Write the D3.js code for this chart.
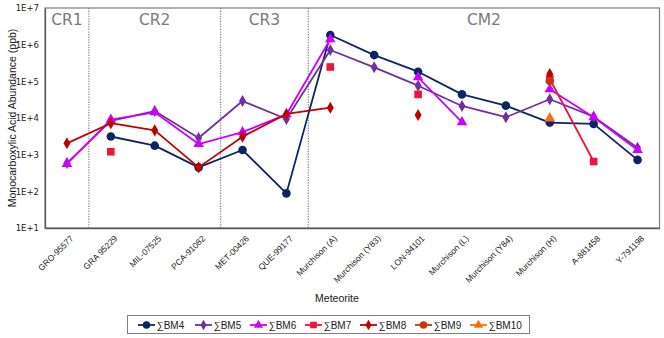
<!DOCTYPE html>
<html><head><meta charset="utf-8">
<script src="https://cdn.jsdelivr.net/npm/d3@7"></script>
<style>body{margin:0;background:#fff}svg{display:block;font-family:"Liberation Sans",Arial,sans-serif}</style>
</head><body><svg id="c" width="664" height="338"></svg>
<script>
const categories = ["GRO-95577","GRA 95229","MIL-07525","PCA-91082","MET-00426","QUE-99177","Murchison (A)","Murchison (Y83)","LON-94101","Murchison (L)","Murchison (Y84)","Murchison (H)","A-881458","Y-791198"];
const bm4  = [null,3130,1760,450,1340,88,1840000,520000,183000,44000,21700,7500,6900,720];
const bm5  = [590,8400,15500,2850,29000,9400,716000,241000,76000,21300,10500,32400,10900,1550];
const bm6  = [560,9000,14300,1950,4100,12500,1400000,null,129000,7700,null,61000,10500,1340];
const bm7  = [null,1200,null,null,null,null,246000,null,44000,null,null,116000,650,null];
const bm8  = [2040,7200,4600,450,3100,12900,19100,null,12100,null,null,158000,null,null];
const bm9  = [null,null,null,null,null,null,null,null,null,null,null,102000,null,null];
const bm10 = [null,null,null,null,null,null,null,null,null,null,null,9800,null,null];
const seriesNames = ["∑BM4","∑BM5","∑BM6","∑BM7","∑BM8","∑BM9","∑BM10"];
const yTicks = [10,100,1000,10000,100000,1000000,10000000];
const yTickLabels = ["1E+1","1E+2","1E+3","1E+4","1E+5","1E+6","1E+7"];
const groups = [{name:"CR1",from:0,to:0},{name:"CR2",from:1,to:3},{name:"CR3",from:4,to:5},{name:"CM2",from:6,to:13}];

const series = [
  {name:seriesNames[0], values:bm4, color:"#0b2463", shape:"circle", size:58},
  {name:seriesNames[1], values:bm5, color:"#7030a0", shape:"diamond", size:42},
  {name:seriesNames[2], values:bm6, color:"#cc00ff", shape:"triangle", size:48},
  {name:seriesNames[3], values:bm7, color:"#f0143c", shape:"square", size:58},
  {name:seriesNames[4], values:bm8, color:"#c00000", shape:"diamond", size:42},
  {name:seriesNames[5], values:bm9, color:"#cc3311", shape:"circle", size:58},
  {name:seriesNames[6], values:bm10, color:"#ff6a10", shape:"triangle", size:50}
];

const svg = d3.select("#c");
const L=45, R=659.5, T=8, B=228;
const x = d3.scaleBand().domain(categories).range([L,R]).paddingInner(0).paddingOuter(0);
const cx = d => x(d) + x.bandwidth()/2;
const y = d3.scaleLog().domain([10,1e7]).range([B,T]);

// plot border
svg.append("rect").attr("x",L).attr("y",T).attr("width",R-L).attr("height",B-T)
  .attr("fill","none").attr("stroke","#7f7f7f").attr("stroke-width",1.2);

// group dividers
groups.slice(0,-1).forEach(g=>{
  const xx = x(categories[g.to]) + x.bandwidth();
  svg.append("line").attr("x1",xx).attr("x2",xx).attr("y1",T).attr("y2",B)
    .attr("stroke","#8c8c8c").attr("stroke-width",1.3).attr("stroke-dasharray","1.3,1.3");
});
groups.forEach(g=>{
  const a = x(categories[g.from]), b = x(categories[g.to]) + x.bandwidth();
  svg.append("text").attr("x",(a+b)/2).attr("y",25).attr("text-anchor","middle")
    .attr("font-size",15.5).attr("fill","#7a7a7a").attr("font-family","DejaVu Sans, sans-serif").text(g.name);
});

// y axis
const yAxis = svg.append("g").attr("transform",`translate(${L},0)`)
  .call(d3.axisLeft(y).tickValues(yTicks).tickFormat((d,i)=>yTickLabels[i]).tickSize(0).tickPadding(6));
yAxis.select(".domain").attr("stroke","#595959").attr("stroke-width",1.3);
yAxis.selectAll("text").attr("font-size",8.5).attr("fill","#222").attr("font-family","DejaVu Sans, sans-serif");

// x axis
const xAxis = svg.append("g").attr("transform",`translate(0,${B})`)
  .call(d3.axisBottom(x).tickSize(0).tickFormat(""));
xAxis.select(".domain").attr("stroke","#595959").attr("stroke-width",1.3);
svg.append("g").selectAll("text").data(categories).join("text")
  .attr("transform",d=>`translate(${cx(d)+5},${B+9}) rotate(-45)`)
  .attr("text-anchor","end").attr("dy","0.35em")
  .attr("font-size",8.5).attr("fill","#1a1a1a").text(d=>d);

// axis titles
svg.append("text").attr("transform",`translate(12,${(T+B)/2}) rotate(-90)`)
  .attr("text-anchor","middle").attr("font-size",10.5).attr("fill","#1a1a1a").attr("dy","0.35em")
  .text("Monocarboxylic Acid Abundance (ppb)");
svg.append("text").attr("x",337).attr("y",302).attr("text-anchor","middle")
  .attr("font-size",10.5).attr("fill","#1a1a1a").text("Meteorite");

const symType = {circle:d3.symbolCircle, diamond:d3.symbolDiamond, triangle:d3.symbolTriangle, square:d3.symbolSquare};

const line = d3.line().defined(d=>d.v!=null).x(d=>cx(d.c)).y(d=>y(d.v));
series.forEach(s=>{
  const pts = categories.map((c,i)=>({c, v:s.values[i]}));
  svg.append("path").datum(pts).attr("d",line).attr("fill","none")
    .attr("stroke",s.color).attr("stroke-width",1.8).attr("stroke-linejoin","round");
  svg.append("g").selectAll("path").data(pts.filter(d=>d.v!=null)).join("path")
    .attr("transform",d=>`translate(${cx(d.c)},${y(d.v)})`)
    .attr("d",d3.symbol().type(symType[s.shape]).size(s.size))
    .attr("fill",s.color);
});

// legend
const lg = svg.append("g");
lg.append("rect").attr("x",127.5).attr("y",315.5).attr("width",402).attr("height",18)
  .attr("fill","#fff").attr("stroke","#7f7f7f");
const lx = [138,195,250,305,360,415,470];
series.forEach((s,i)=>{
  const g = lg.append("g").attr("transform",`translate(${lx[i]},325)`);
  g.append("line").attr("x1",0).attr("x2",17).attr("stroke",s.color).attr("stroke-width",1.8);
  g.append("path").attr("transform","translate(8.5,0)")
    .attr("d",d3.symbol().type(symType[s.shape]).size(s.size*0.75)).attr("fill",s.color);
  g.append("text").attr("x",18.5).attr("dy","0.35em").attr("font-size",10).attr("fill","#1a1a1a").text(s.name);
});
</script></body></html>
